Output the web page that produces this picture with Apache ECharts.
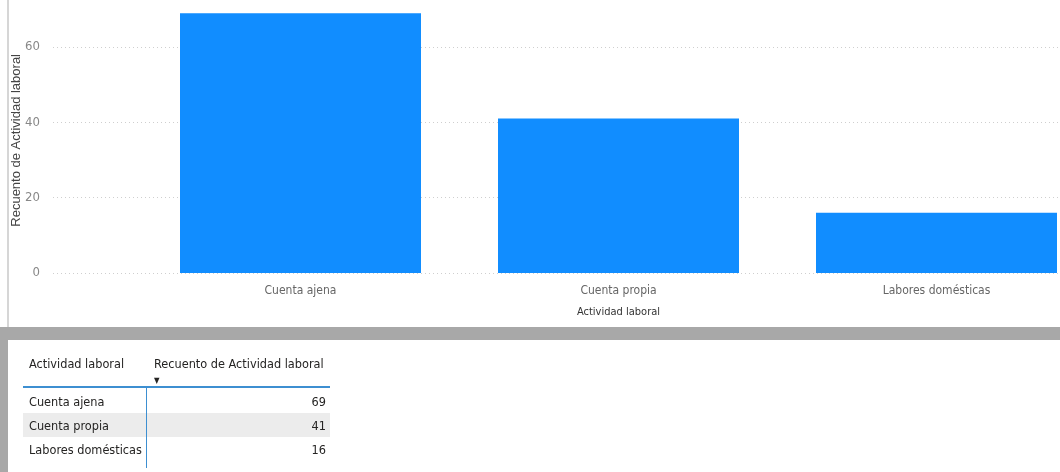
<!DOCTYPE html>
<html>
<head>
<meta charset="utf-8">
<script src="https://cdn.jsdelivr.net/npm/echarts@6/dist/echarts.min.js"></script>
<style>
  html, body { margin: 0; padding: 0; width: 1060px; height: 472px; overflow: hidden; background: #fff; }
  body { position: relative; font-family: "DejaVu Sans Condensed", sans-serif; }
  #echart-bar { position: absolute; left: 0; top: -40px; width: 1100px; height: 370px; }
  #leftline { position: absolute; left: 7px; top: 0; width: 2px; height: 327px; background: #d6d6d6; }
  #band { position: absolute; left: 0; top: 327px; width: 1060px; height: 13px; background: #a8a8a8; }
  #strip { position: absolute; left: 0; top: 340px; width: 8px; height: 132px; background: #a8a8a8; }
  #tabla { position: absolute; left: 0; top: 0; width: 1060px; height: 472px; color: #252423; font-size: 12.6px; }
  #tabla div { position: absolute; white-space: nowrap; }
  .sorter { font-size: 8px; }
</style>
</head>
<body>
<div id="leftline"></div>
<div id="echart-bar"></div>
<div id="band"></div>
<div id="strip"></div>
<div id="tabla"></div>

<script>
const categories = ['Cuenta ajena', 'Cuenta propia', 'Labores domésticas'];
const counts = [69, 41, 16];
const yTicks = [0, 20, 40, 60];
const xTitle = 'Actividad laboral';
const yTitle = 'Recuento de Actividad laboral';

let chart = echarts.init(document.getElementById('echart-bar'));
const gridTop = 11.7;
const gridHeight = 301.3;

const option = {
  animation: false,
  textStyle: { fontFamily: '"DejaVu Sans Condensed", sans-serif' },
  grid: [
    { left: 53, right: 0, top: gridTop, height: gridHeight, outerBoundsMode: 'none' },
    { left: 141.5, width: 954, top: gridTop, height: gridHeight, outerBoundsMode: 'none' }
  ],
  xAxis: [
    { gridIndex: 0, type: 'value', min: 0, max: 1, show: false },
    {
      gridIndex: 1,
      type: 'category',
      data: categories,
      axisLine: { show: false },
      axisTick: { show: false },
      axisLabel: { color: '#666', fontSize: 12, margin: 12 },
      name: xTitle,
      nameLocation: 'middle',
      nameGap: 34,
      nameMoveOverlap: false,
      nameTextStyle: { color: '#333', fontSize: 11 }
    }
  ],
  yAxis: [
    {
      gridIndex: 0,
      type: 'value',
      min: yTicks[0],
      max: 80,
      interval: yTicks[1] - yTicks[0],
      axisLine: { show: false },
      axisTick: { show: false },
      axisLabel: {
        color: '#888', fontSize: 13, margin: 13,
        formatter: v => (yTicks.indexOf(v) >= 0 ? String(v) : '')
      },
      splitLine: { lineStyle: { color: '#cfcfcf', type: [1, 3], width: 1 } },
      name: yTitle,
      nameLocation: 'middle',
      nameRotate: 90,
      nameGap: 30,
      nameMoveOverlap: false,
      nameTextStyle: {
        color: '#444', fontSize: 13,
        fontFamily: '"Liberation Sans", Arial, sans-serif',
        padding: [0, 36, 0, 0]
      }
    },
    { gridIndex: 1, type: 'value', min: 0, max: 80, show: false, splitLine: { show: false } }
  ],
  series: [
    {
      name: yTitle,
      type: 'bar',
      xAxisIndex: 1,
      yAxisIndex: 1,
      barWidth: 241,
      itemStyle: { color: '#118DFF' },
      data: counts
    }
  ]
};
chart.setOption(option);

// tabla de abajo, generada desde los mismos arrays
const tabla = document.getElementById('tabla');
function add(html, css) {
  const d = document.createElement('div');
  d.innerHTML = html;
  Object.assign(d.style, css);
  tabla.appendChild(d);
}
add(xTitle, { left: '29px', top: '356px' });
add(yTitle + '<br><span class="sorter">&#9660;</span>', { left: '154px', top: '356px', lineHeight: '15px' });
add('', { left: '23px', top: '386px', width: '307px', height: '2px', background: '#3d8fd1' });
const rowTop = 389, rowH = 24;
categories.forEach((c, i) => {
  const top = rowTop + i * rowH;
  if (i % 2 === 1) {
    add('', { left: '23px', top: top + 'px', width: '307px', height: rowH + 'px', background: '#ececec' });
  }
  add(c, { left: '29px', top: (top + 4) + 'px', lineHeight: '18px' });
  add(String(counts[i]), { right: (1060 - 326) + 'px', top: (top + 4) + 'px', lineHeight: '18px', textAlign: 'right' });
});
add('', { left: '146px', top: '388px', width: '1px', height: '80px', background: '#3d8fd1' });
</script>
</body>
</html>
